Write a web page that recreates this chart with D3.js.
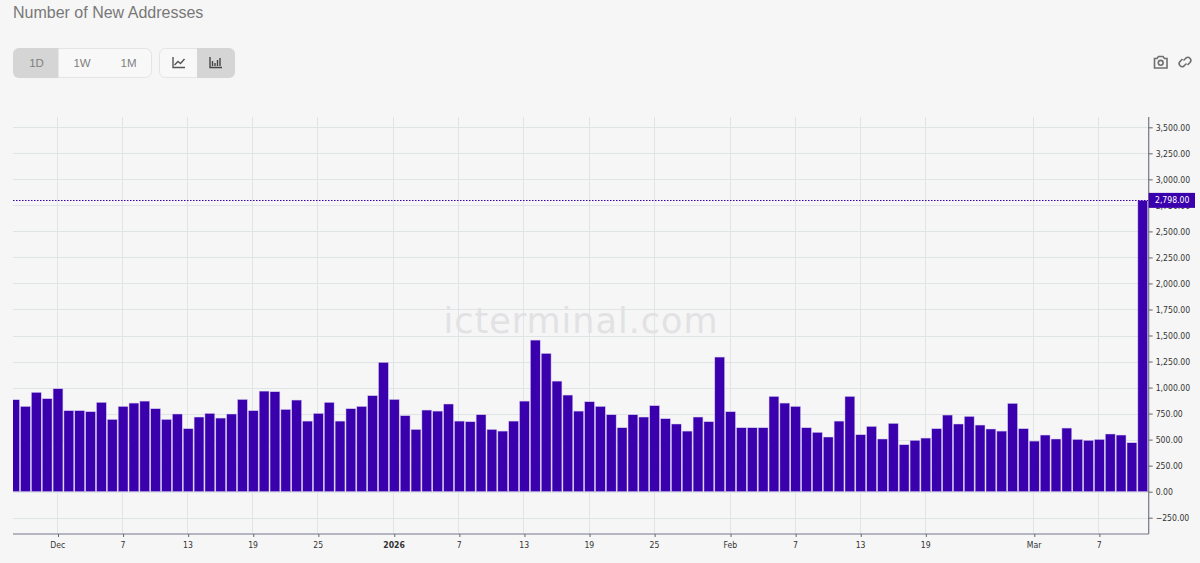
<!DOCTYPE html>
<html><head><meta charset="utf-8">
<script src="https://cdn.jsdelivr.net/npm/d3@7/dist/d3.min.js"></script>
<style>
html,body{margin:0;padding:0;background:#f6f6f6;width:1200px;height:563px;overflow:hidden}
svg{display:block}
text{font-family:"Liberation Sans",Arial,sans-serif}
.ax text{font-family:"DejaVu Sans Condensed","DejaVu Sans",sans-serif;font-stretch:condensed;font-size:8.6px;fill:#333}
</style></head><body>
<svg id="c" width="1200" height="563"></svg>
<script>
const title = "Number of New Addresses";
const startDate = "2025-11-27";
const newAddresses = [883,819,954,893,989,778,778,768,858,694,819,851,870,797,694,746,605,717,752,707,746,886,778,966,960,790,880,
678,752,858,678,797,819,922,1242,886,730,598,784,774,842,678,672,739,598,582,678,870,1456,1328,1062,928,774,864,
819,739,614,739,717,826,701,650,582,717,672,1293,768,614,614,614,915,851,819,614,570,525,678,915,547,627,506,656,
451,493,515,605,736,650,723,640,602,582,848,605,486,544,506,611,502,493,502,554,544,470,2798];
const yTicks = [-250,0,250,500,750,1000,1250,1500,1750,2000,2250,2500,2750,3000,3250,3500];
const xTickDates = ["2025-12-01","2025-12-07","2025-12-13","2025-12-19","2025-12-25","2026-01-01","2026-01-07","2026-01-13","2026-01-19","2026-01-25","2026-02-01","2026-02-07","2026-02-13","2026-02-19","2026-03-01","2026-03-07"];
const xTickLabels = ["Dec","7","13","19","25","2026","7","13","19","25","Feb","7","13","19","Mar","7"];
const rangeButtons = ["1D","1W","1M"];
const watermark = "icterminal.com";
const lastValue = newAddresses[newAddresses.length-1];

const svg = d3.select("#c");
const L=13,R=1148.7,T=117,B=534;
const parse = d3.utcParse("%Y-%m-%d");
const t0 = parse(startDate);
const dates = newAddresses.map((_,i)=>d3.utcDay.offset(t0,i));
const x = d3.scaleUtc().domain([parse("2025-12-01"),parse("2026-03-01")]).range([58,1034.3]);
const y = d3.scaleLinear().domain([-250,3500]).range([517.7,127.3]);
const dayW = x(parse("2025-12-02"))-x(parse("2025-12-01"));
const barW = dayW-1;

svg.append("defs").append("clipPath").attr("id","plot").append("rect")
  .attr("x",L).attr("y",T).attr("width",R-L).attr("height",B-T);

// title
svg.append("text").attr("x",13).attr("y",18).attr("font-size",16).attr("fill","#787878").text(title);

// button groups
const g1=svg.append("g");
g1.append("rect").attr("x",13.5).attr("y",48.5).attr("width",138).attr("height",29).attr("rx",6).attr("fill","#f8f8f8").attr("stroke","#e4e4e4");
g1.append("path").attr("d","M19,48 H58.5 V78 H19 a6,6 0 0 1 -6,-6 V54 a6,6 0 0 1 6,-6 Z").attr("fill","#d5d5d5");
g1.selectAll("text.r").data(rangeButtons).join("text").attr("class","r")
  .attr("x",(d,i)=>[36.5,82,128.5][i]).attr("y",67).attr("text-anchor","middle")
  .attr("font-size",11.5).attr("fill","#808080").text(d=>d);
const g2=svg.append("g");
g2.append("rect").attr("x",159.5).attr("y",48.5).attr("width",75).attr("height",29).attr("rx",6).attr("fill","#f8f8f8").attr("stroke","#e4e4e4");
g2.append("path").attr("d","M197,48 H229 a6,6 0 0 1 6,6 V72 a6,6 0 0 1 -6,6 H197 Z").attr("fill","#d5d5d5");
g2.append("path").attr("d","M173,57 V67.5 H185 M174.5,65 L178,61.5 L180.5,63.5 L184.5,59").attr("fill","none").attr("stroke","#555").attr("stroke-width",1.4);
g2.append("path").attr("d","M210,57 V67.5 H222 M212.5,66 V61 M215,66 V63 M217.5,66 V60 M220,66 V58").attr("fill","none").attr("stroke","#444").attr("stroke-width",1.4);

// camera + link icons
const ic=svg.append("g").attr("fill","none").attr("stroke","#6f6f6f").attr("stroke-width",1.6);
ic.append("path").attr("d","M1154.5,58.5 H1157 L1158.5,56.5 H1163 L1164.5,58.5 H1167 V68 H1154.5 Z");
ic.append("circle").attr("cx",1160.7).attr("cy",62.8).attr("r",2.4);
ic.append("path").attr("d","M1183.5,60.5 L1186,58 a3,3 0 0 1 4.2,4.2 L1187.5,65 M1186.5,63.5 L1184,66 a3,3 0 0 1 -4.2,-4.2 L1182.5,59");

// grid
const grid=svg.append("g").attr("stroke","#dfe4e4").attr("stroke-width",1);
grid.selectAll("line.h").data(yTicks).join("line").attr("class","h")
  .attr("x1",L).attr("x2",R).attr("y1",d=>Math.round(y(d))+.5).attr("y2",d=>Math.round(y(d))+.5);
grid.selectAll("line.v").data(xTickDates).join("line").attr("class","v")
  .attr("x1",d=>Math.round(x(parse(d)))-.5).attr("x2",d=>Math.round(x(parse(d)))-.5).attr("y1",T).attr("y2",B);

// watermark
svg.append("text").attr("x",581).attr("y",333).attr("text-anchor","middle")
  .attr("font-size",35).attr("letter-spacing",1).style("font-family","'DejaVu Sans',sans-serif")
  .attr("fill","#e2e2e4").text(watermark);

// bars
svg.append("g").attr("clip-path","url(#plot)").selectAll("rect").data(newAddresses).join("rect")
  .attr("x",(d,i)=>x(dates[i])-barW/2).attr("width",barW)
  .attr("y",d=>y(d)).attr("height",d=>y(0)-y(d))
  .attr("fill","#3a00ad").attr("stroke","#d4cbee").attr("stroke-width",.5);

// last value dotted line
svg.append("line").attr("x1",L).attr("x2",R).attr("y1",Math.round(y(lastValue))+.5).attr("y2",Math.round(y(lastValue))+.5)
  .attr("stroke","#3a00ad").attr("stroke-width",1).attr("stroke-dasharray","1.5 1.5");

// axes
const ya=svg.append("g").attr("class","ax").attr("transform",`translate(${R},0)`)
  .call(d3.axisRight(y).tickValues(yTicks).tickSize(4).tickPadding(3).tickFormat(d3.format(",.2f")));
ya.select(".domain").attr("d",`M0,${T}V${B}`).attr("stroke","#77778a").attr("stroke-width",1.2);
ya.selectAll(".tick line").attr("stroke","#666");
const xa=svg.append("g").attr("class","ax").attr("transform",`translate(0,${B})`)
  .call(d3.axisBottom(x).tickValues(xTickDates.map(parse)).tickSize(3).tickPadding(5).tickFormat((d,i)=>xTickLabels[i]));
xa.select(".domain").attr("d",`M${L},0H${R}`).attr("stroke","#77778a").attr("stroke-width",1.2);
xa.selectAll(".tick line").attr("stroke","#666");
xa.selectAll(".tick text").attr("font-weight",(d,i)=>xTickLabels[i]==="2026"?"bold":null).attr("dx",-0.7);

// last value tag
const yl=y(lastValue);
svg.append("rect").attr("x",R).attr("y",yl-7.5).attr("width",46.3).attr("height",15).attr("fill","#3a00ad");
svg.append("text").attr("x",R+6.3).attr("y",yl+3).style("font-family","'DejaVu Sans Condensed','DejaVu Sans',sans-serif").style("font-stretch","condensed")
  .attr("font-size",8.6).attr("fill","#fff").text(d3.format(",.2f")(lastValue));
</script></body></html>
